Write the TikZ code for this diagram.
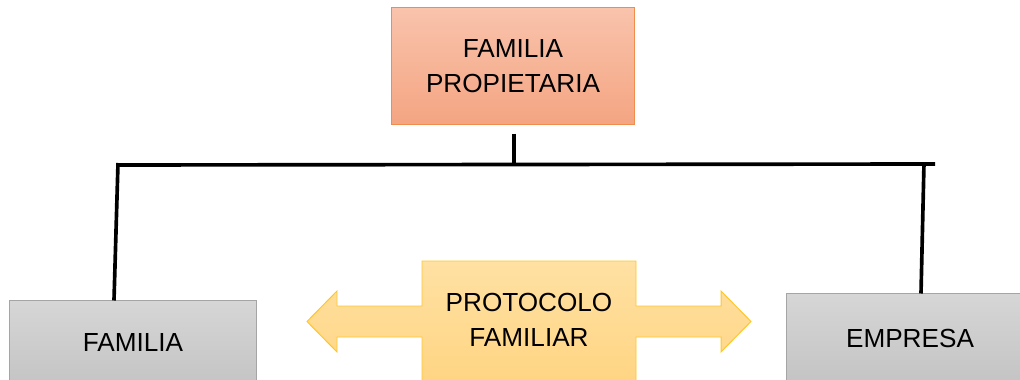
\documentclass[tikz,border=0pt]{standalone}
\usepackage{fontspec}
\setmainfont{Liberation Sans}
\definecolor{propTop}{HTML}{F9C3AC}
\definecolor{propBot}{HTML}{F4A582}
\definecolor{propLine}{HTML}{F08C4C}
\definecolor{greyTop}{HTML}{D6D6D6}
\definecolor{greyBot}{HTML}{C4C4C4}
\definecolor{greyLine}{HTML}{A5A5A5}
\definecolor{protoTop}{HTML}{FFE1A3}
\definecolor{protoBot}{HTML}{FFD37E}
\definecolor{protoLine}{HTML}{FFC62A}
\begin{document}
\begin{tikzpicture}[x=0.025cm, y=-0.025cm,
    box/.style={line width=0.7pt, minimum width=6.15cm, align=center,
        inner sep=0pt, font=\fontsize{18.6}{25}\selectfont},
    propbox/.style={box, draw=propLine, top color=propTop, bottom color=propBot},
    greybox/.style={box, draw=greyLine, top color=greyTop, bottom color=greyBot},
    link/.style={line width=2.6pt}]
    \clip (0,0) rectangle (1020,380);

    % Boxes
    \node[propbox, minimum width=6.05cm, minimum height=2.9cm] (prop) at (513,66) {FAMILIA\\PROPIETARIA};
    \node[greybox, minimum height=2.1cm] (fam) at (133,343) {FAMILIA};
    \node[greybox, minimum height=2.2cm] (emp) at (910,338) {EMPRESA};

    % Tree lines
    \coordinate (barL) at (118,165);
    \coordinate (barM) at (514,165);
    \coordinate (barR) at (935,164);
    \coordinate (famTop) at (118,163);
    \coordinate (empTop) at (924,163);
    \draw[link] ([xshift=0.025cm, yshift=-0.225cm]prop.south) -- (barM);
    \draw[link] (barL) -- (barR);
    \draw[link] (famTop) -- ([xshift=-0.475cm]fam.north);
    \draw[link] (empTop) -- ([xshift=0.275cm]emp.north);

    % Double arrow
    \shadedraw[top color=protoTop, bottom color=protoBot, draw=protoLine, line width=0.7pt]
        (307,321.5) -- (337,291) -- (337,306) -- (422,306) -- (422,261)
        -- (636,261) -- (636,306) -- (721,306) -- (721,291) -- (751,321.5)
        -- (721,352) -- (721,337) -- (636,337) -- (636,400) -- (422,400)
        -- (422,337) -- (337,337) -- (337,352) -- cycle;
    \node[align=center, font=\fontsize{18.6}{25}\selectfont, inner sep=0pt] (proto) at (529,320) {PROTOCOLO\\FAMILIAR};
\end{tikzpicture}
\end{document}
